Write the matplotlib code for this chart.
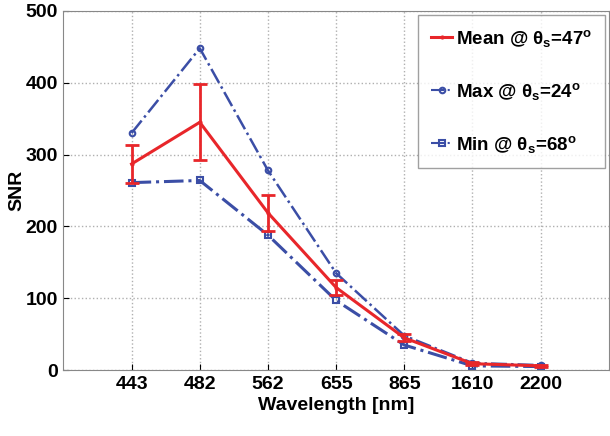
import matplotlib
matplotlib.use("Agg")
import matplotlib.pyplot as plt
from matplotlib.lines import Line2D
import numpy as np

fam = 'Liberation Sans'
plt.rcParams['font.family'] = [fam, 'DejaVu Sans']
plt.rcParams['font.weight'] = 'bold'
plt.rcParams['mathtext.fontset'] = 'custom'
plt.rcParams['mathtext.rm'] = fam + ':bold'
plt.rcParams['mathtext.it'] = fam + ':bold'
plt.rcParams['mathtext.bf'] = fam + ':bold'

wavelengths = ['443', '482', '562', '655', '865', '1610', '2200']
mean_snr = [287, 345, 219, 115, 45, 9, 6]
mean_err = [26, 53, 25, 11, 5, 2, 1]
max_snr = [330, 448, 278, 135, 48, 10, 7]
min_snr = [261, 264, 188, 97, 35, 6, 5]
labels = ['Mean @ θ$_\\mathregular{s}$=47$^\\mathregular{o}$',
          'Max @ θ$_\\mathregular{s}$=24$^\\mathregular{o}$',
          'Min @ θ$_\\mathregular{s}$=68$^\\mathregular{o}$']

red = '#e8262a'
blue = '#3b4ea6'

fig = plt.figure(figsize=(6.1, 4.36), dpi=100)
ax = fig.add_axes([0.104, 0.151, 0.894, 0.824])
x = np.arange(1, len(wavelengths) + 1)

ax.errorbar(x, mean_snr, yerr=mean_err, color=red, lw=2.2, capsize=5, capthick=2,
            elinewidth=2, marker='.', ms=4, zorder=3)
ax.plot(x, max_snr, color=blue, lw=1.8, ls='-.', marker='o', ms=4, mfc='none', mew=1.5, zorder=2)
ax.plot(x, min_snr, color=blue, lw=2.2, ls='-.', marker='s', ms=4.5, mfc='none', mew=1.5, zorder=2)

ax.set_xlim(0, 8)
ax.set_ylim(0, 500)
ax.set_xticks(x)
ax.set_xticklabels(wavelengths)
ax.set_yticks([0, 100, 200, 300, 400, 500])
ax.tick_params(direction='in', labelsize=14, length=4, pad=4)
for lab in ax.get_xticklabels() + ax.get_yticklabels():
    lab.set_fontweight('bold')
ax.grid(True, ls=':', color='#b0b0b0', lw=1)
ax.set_xlabel('Wavelength [nm]', fontsize=14, fontweight='bold', labelpad=3)
ax.set_ylabel('SNR', fontsize=14, fontweight='bold', labelpad=0)
for s in ax.spines.values():
    s.set_color('#888888')

handles = [Line2D([], [], color=red, lw=2.2, marker='.', ms=4),
           Line2D([], [], color=blue, lw=1.5, ls='-.', marker='o', ms=4, mfc='none', mew=1.5),
           Line2D([], [], color=blue, lw=1.5, ls='-.', marker='s', ms=4, mfc='none', mew=1.5)]
leg = ax.legend(handles, labels, loc='upper right', fontsize=13.5, handlelength=1.1,
                labelspacing=1.7, fancybox=False, edgecolor='#888888', borderpad=0.7,
                handletextpad=0.2, borderaxespad=0.2)
for t in leg.get_texts():
    t.set_fontweight('bold')

fig.savefig('out.png', dpi=100)
